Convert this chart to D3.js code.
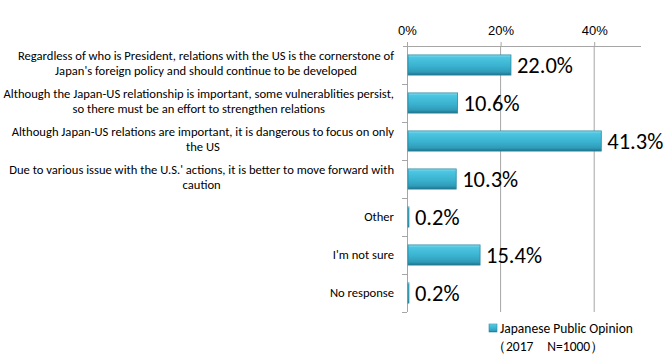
<!doctype html>
<meta charset="utf-8">
<title>Japan-US relations</title>
<style>
body { margin: 0; background: #fff; }
svg { font-family: Calibri, Carlito, Lato, sans-serif; }
.cat { font-size: 12.6px; fill: #000; }
.val { font-size: 22.5px; fill: #000; }
.tick text { font-size: 13px; fill: #000; }
.leg { font-size: 13.5px; fill: #000; }
</style>
<script src="https://d3js.org/d3.v7.min.js"></script>
<body>
<script>
var width = 670, height = 361;

var categories = [
  ["Regardless of who is President, relations with the US is the cornerstone of", "Japan's foreign policy and should continue to be developed"],
  ["Although the Japan-US relationship is important, some vulnerablities persist,", "so there must be an effort to strengthen relations"],
  ["Although Japan-US relations are important, it is dangerous to focus on only", "the US"],
  ["Due to various issue with the U.S.' actions, it is better to move forward with", "caution"],
  ["Other"],
  ["I'm not sure"],
  ["No response"]
];
var values = [22.0, 10.6, 41.3, 10.3, 0.2, 15.4, 0.2];
var xTicks = [0, 20, 40];
var legendLines = ["Japanese Public Opinion", "\uFF082017\u3000N=1000\uFF09"];

var margin = {top: 46, left: 407, right: 29, bottom: 49};

var svg = d3.select("body").append("svg")
    .attr("width", width)
    .attr("height", height);

var defs = svg.append("defs");
var grad = defs.append("linearGradient")
    .attr("id", "barGrad")
    .attr("x1", 0).attr("y1", 0).attr("x2", 0).attr("y2", 1);
grad.append("stop").attr("offset", "0%").attr("stop-color", "#8ee3f5");
grad.append("stop").attr("offset", "12%").attr("stop-color", "#4cc6e2");
grad.append("stop").attr("offset", "55%").attr("stop-color", "#3ab2cf");
grad.append("stop").attr("offset", "85%").attr("stop-color", "#2f9bb8");
grad.append("stop").attr("offset", "100%").attr("stop-color", "#1f6f86");

var x = d3.scaleLinear()
    .domain([0, 50])
    .range([margin.left, width - margin.right]);

var y = d3.scaleBand()
    .domain(d3.range(values.length))
    .range([margin.top, height - margin.bottom])
    .paddingInner(0.47)
    .paddingOuter(0.235);

var yEdges = d3.range(values.length + 1).map(function(i) {
  return margin.top + i * (height - margin.bottom - margin.top) / values.length;
});

// gridlines
svg.append("g").selectAll("line")
    .data(xTicks.slice(1))
  .enter().append("line")
    .attr("x1", function(d) { return x(d); })
    .attr("x2", function(d) { return x(d); })
    .attr("y1", margin.top)
    .attr("y2", height - margin.bottom)
    .attr("stroke", "#a6a6a6");

// top axis
var xAxis = svg.append("g")
    .attr("transform", "translate(0," + margin.top + ")")
    .call(d3.axisTop(x).tickValues(xTicks).tickSize(4).tickPadding(7)
      .tickFormat(function(d) { return d + "%"; }));
xAxis.select(".domain").attr("stroke", "#a6a6a6").attr("d", "M" + (margin.left - 4) + ",0.5H" + (width - margin.right));
xAxis.selectAll(".tick line").attr("stroke", "#a6a6a6");

// left axis
svg.append("line")
    .attr("x1", margin.left + 0.5).attr("x2", margin.left + 0.5)
    .attr("y1", margin.top - 4).attr("y2", height - margin.bottom)
    .attr("stroke", "#a6a6a6");
svg.append("g").selectAll("line")
    .data(yEdges.slice(1))
  .enter().append("line")
    .attr("x1", margin.left - 5).attr("x2", margin.left)
    .attr("y1", function(d) { return Math.round(d) + 0.5; })
    .attr("y2", function(d) { return Math.round(d) + 0.5; })
    .attr("stroke", "#a6a6a6");

// bars
svg.append("g").selectAll("rect")
    .data(values)
  .enter().append("rect")
    .attr("x", x(0) + 1)
    .attr("y", function(d, i) { return y(i); })
    .attr("width", function(d) { return Math.max(0, x(d) - x(0)); })
    .attr("height", y.bandwidth())
    .attr("fill", "url(#barGrad)")
    .attr("stroke", "#2a8aa3")
    .attr("stroke-width", 0.8);

// value labels
svg.append("g").selectAll("text")
    .data(values)
  .enter().append("text")
    .attr("class", "val")
    .attr("x", function(d) { return x(d) + 7; })
    .attr("y", function(d, i) { return y(i) + y.bandwidth() / 2 + 8; })
    .text(function(d) { return d.toFixed(1) + "%"; });

// category labels
var catG = svg.append("g");
categories.forEach(function(lines, i) {
  var cy = y(i) + y.bandwidth() / 2;
  var g = catG.append("g");
  var lh = 15;
  var t = g.selectAll("text")
      .data(lines)
    .enter().append("text")
      .attr("class", "cat")
      .attr("text-anchor", "middle")
      .attr("x", 0)
      .attr("y", function(d, j) { return cy - (lines.length - 1) * lh / 2 + j * lh + 4 - (lines.length > 1 ? 2 : 0); })
      .text(function(d) { return d; });
  var w = d3.max(t.nodes(), function(n) { return n.getComputedTextLength(); });
  g.attr("transform", "translate(" + (394 - w / 2) + ",0)");
});

// legend
var leg = svg.append("g");
leg.append("rect")
    .attr("x", 489).attr("y", 324)
    .attr("width", 8).attr("height", 8)
    .attr("fill", "url(#barGrad)")
    .attr("stroke", "#2a8aa3")
    .attr("stroke-width", 0.6);
leg.append("text")
    .attr("class", "leg")
    .attr("x", 500).attr("y", 333)
    .text(legendLines[0]);
leg.append("text")
    .attr("class", "leg")
    .attr("x", 492).attr("y", 351)
    .text(legendLines[1]);
</script>
